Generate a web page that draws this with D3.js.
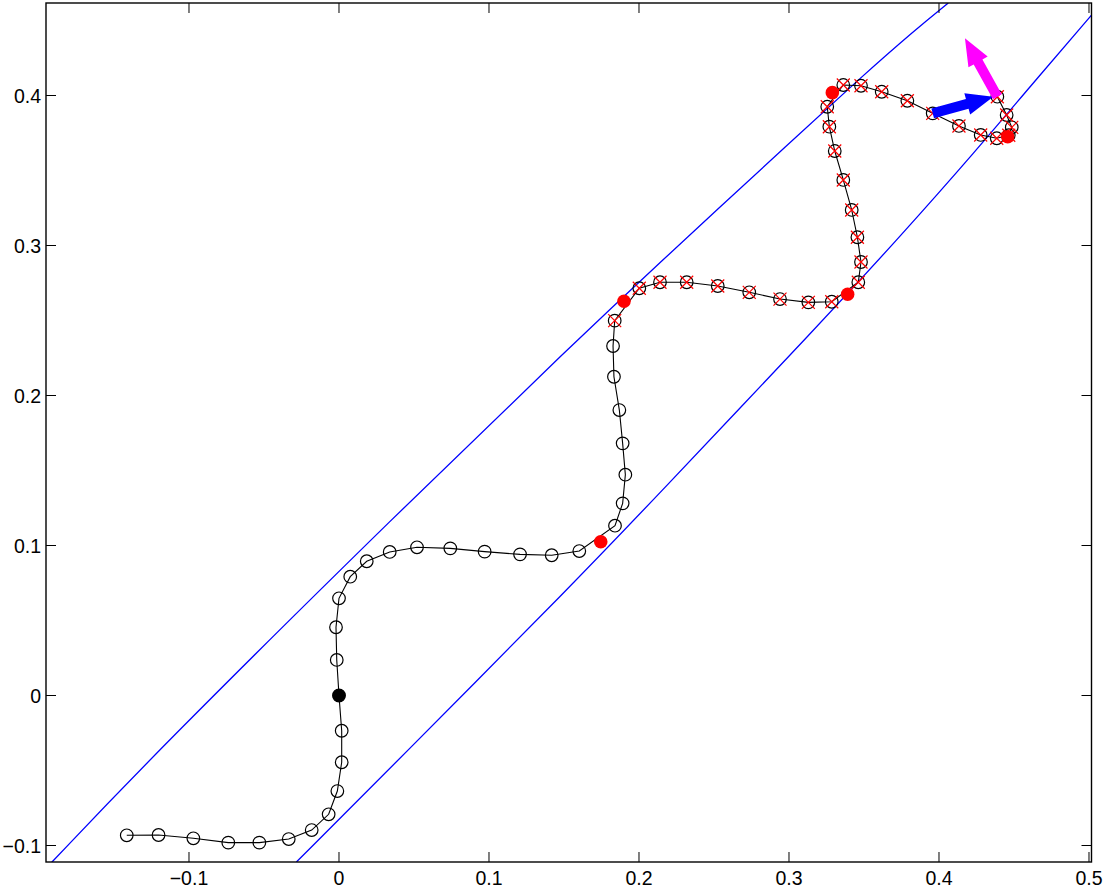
<!DOCTYPE html>
<html>
<head>
<meta charset="utf-8">
<script src="https://cdn.jsdelivr.net/npm/d3@7"></script>
<style>
  body { margin: 0; background: #fff; }
  svg text { font-family: "Liberation Sans", Arial, sans-serif; font-size: 19.5px; fill: #000; }
</style>
</head>
<body>
<div id="chart"></div>
<script>
// path points, first part plain circles
var pathX = [-0.1415, -0.1203, -0.0971, -0.0738, -0.0531, -0.0335, -0.0182, -0.0069, -0.0011, 0.0018,
  0.0018, 0.0, -0.0015, -0.0020, 0.0, 0.0075, 0.0185, 0.0338, 0.0520, 0.0742,
  0.0971, 0.1207, 0.1418, 0.1602, 0.1840, 0.1891, 0.1909, 0.1891, 0.1869, 0.1833, 0.1827];
var pathY = [-0.0932, -0.0930, -0.0952, -0.0981, -0.0981, -0.0957, -0.0897, -0.0792, -0.0637, -0.0445,
  -0.0235, 0.0, 0.0237, 0.0455, 0.0648, 0.0792, 0.0895, 0.0957, 0.0988, 0.0981,
  0.0959, 0.0941, 0.0935, 0.0963, 0.1132, 0.1281, 0.1472, 0.1681, 0.1903, 0.2125, 0.2330];
// second part, crossed points
var crossX = [0.1838, 0.2002, 0.2140, 0.2318, 0.2525, 0.2735, 0.2940, 0.3129, 0.3285, 0.3462,
  0.3480, 0.3456, 0.3418, 0.3362, 0.3305, 0.3269, 0.3255, 0.3362, 0.3480, 0.3618,
  0.3789, 0.3958, 0.4133, 0.4278, 0.4385, 0.4465, 0.4485, 0.4451, 0.4389];
var crossY = [0.2499, 0.2715, 0.2755, 0.2755, 0.2730, 0.2688, 0.2643, 0.2621, 0.2625, 0.2755,
  0.2890, 0.3055, 0.3237, 0.3437, 0.3630, 0.3792, 0.3925, 0.4070, 0.4065, 0.4025,
  0.3965, 0.3881, 0.3797, 0.3737, 0.3715, 0.3735, 0.3788, 0.3870, 0.3992];

var redX = [0.1745, 0.1900, 0.3391, 0.3289, 0.4458];
var redY = [0.1025, 0.2628, 0.2675, 0.4019, 0.3725];
var startPt = [0, 0];

// band edges
var upperX = [-0.1915, -0.1205, 0.0407, 0.1589, 0.2073, 0.3073, 0.3473, 0.3840, 0.4062];
var upperY = [-0.1112, -0.0363, 0.1232, 0.2370, 0.2825, 0.3748, 0.4115, 0.4437, 0.4617];
var lowerX = [-0.0284, 0.0407, 0.1585, 0.2073, 0.3229, 0.3740, 0.4251, 0.4607, 0.5018];
var lowerY = [-0.1110, -0.0419, 0.0770, 0.1281, 0.2503, 0.3059, 0.3637, 0.4059, 0.4537];

// arrows: tail x, tail y, tip x, tip y
var arrowBlue = [0.3958, 0.3881, 0.4362, 0.3992];
var arrowMagenta = [0.4389, 0.3992, 0.4173, 0.4381];

var xTicks = [-0.1, 0, 0.1, 0.2, 0.3, 0.4, 0.5];
var yTicks = [-0.1, 0, 0.1, 0.2, 0.3, 0.4];

var W = 1104, H = 890;
var padL = 46, padR = 1091.5, padT = 3, padB = 862;

var x = d3.scaleLinear().domain([-0.19533, 0.50167]).range([padL, padR]);
var y = d3.scaleLinear().domain([-0.111, 0.46167]).range([padB, padT]);

var svg = d3.select("#chart").append("svg").attr("width", W).attr("height", H);

svg.append("clipPath").attr("id", "clip").append("rect")
  .attr("x", padL).attr("y", padT).attr("width", padR - padL).attr("height", padB - padT);

var plot = svg.append("g").attr("clip-path", "url(#clip)");

function zip(xs, ys) { return xs.map(function(v, i) { return [v, ys[i]]; }); }

var edge = d3.line().x(function(d) { return x(d[0]); }).y(function(d) { return y(d[1]); }).curve(d3.curveBasis);
[zip(upperX, upperY), zip(lowerX, lowerY)].forEach(function(pts) {
  plot.append("path").attr("d", edge(pts)).attr("fill", "none").attr("stroke", "#0000ff").attr("stroke-width", 1.3);
});

var pts1 = zip(pathX, pathY), pts2 = zip(crossX, crossY);
var all = pts1.concat(pts2);
var line = d3.line().x(function(d) { return x(d[0]); }).y(function(d) { return y(d[1]); });
plot.append("path").attr("d", line(all)).attr("fill", "none").attr("stroke", "#000").attr("stroke-width", 1.1);

plot.selectAll("circle.m").data(all).enter().append("circle").attr("class", "m")
  .attr("cx", function(d) { return x(d[0]); }).attr("cy", function(d) { return y(d[1]); })
  .attr("r", 6.3).attr("fill", "none").attr("stroke", "#000").attr("stroke-width", 1.2);

var s = 6.5;
plot.selectAll("path.cross").data(pts2).enter().append("path").attr("class", "cross")
  .attr("d", function(d) {
    var cx = x(d[0]), cy = y(d[1]);
    return "M" + (cx - s) + "," + (cy - s) + "L" + (cx + s) + "," + (cy + s) +
      "M" + (cx - s) + "," + (cy + s) + "L" + (cx + s) + "," + (cy - s);
  })
  .attr("stroke", "#ff0000").attr("stroke-width", 1.2).attr("fill", "none");

plot.selectAll("circle.red").data(zip(redX, redY)).enter().append("circle").attr("class", "red")
  .attr("cx", function(d) { return x(d[0]); }).attr("cy", function(d) { return y(d[1]); })
  .attr("r", 6.8).attr("fill", "#ff0000");

plot.append("circle").attr("cx", x(startPt[0])).attr("cy", y(startPt[1])).attr("r", 6.5).attr("fill", "#000");

function arrow(a, color) {
  var x0 = x(a[0]), y0 = y(a[1]), x1 = x(a[2]), y1 = y(a[3]);
  var dx = x1 - x0, dy = y1 - y0, L = Math.sqrt(dx * dx + dy * dy);
  var ux = dx / L, uy = dy / L, nx = -uy, ny = ux;
  var hl = 27, sw = 5, hw = 11;
  var bx = x1 - ux * hl, by = y1 - uy * hl;
  var p = [
    [x0 + nx * sw, y0 + ny * sw], [bx + nx * sw, by + ny * sw], [bx + nx * hw, by + ny * hw],
    [x1, y1], [bx - nx * hw, by - ny * hw], [bx - nx * sw, by - ny * sw], [x0 - nx * sw, y0 - ny * sw]
  ];
  plot.append("polygon").attr("points", p.map(function(q) { return q.join(","); }).join(" ")).attr("fill", color);
}
arrow(arrowBlue, "#0000ff");
arrow(arrowMagenta, "#ff00ff");

// axes box, ticks inside on all sides
var ax = svg.append("g");
var tl = 10;
function fmt(v) { return v < 0 ? "\u2212" + d3.format("")(-v) : d3.format("")(v); }
xTicks.forEach(function(t) {
  var px = x(t);
  ax.append("line").attr("x1", px).attr("x2", px).attr("y1", padB).attr("y2", padB - tl).attr("stroke", "#000");
  ax.append("line").attr("x1", px).attr("x2", px).attr("y1", padT).attr("y2", padT + tl).attr("stroke", "#000");
  ax.append("text").attr("x", px).attr("y", 885).attr("text-anchor", "middle").text(fmt(t));
});
yTicks.forEach(function(t) {
  var py = y(t);
  ax.append("line").attr("x1", padL).attr("x2", padL + tl).attr("y1", py).attr("y2", py).attr("stroke", "#000");
  ax.append("line").attr("x1", padR).attr("x2", padR - tl).attr("y1", py).attr("y2", py).attr("stroke", "#000");
  ax.append("text").attr("x", 41).attr("y", py + 7).attr("text-anchor", "end").text(fmt(t));
});
ax.append("rect").attr("x", padL).attr("y", padT).attr("width", padR - padL).attr("height", padB - padT)
  .attr("fill", "none").attr("stroke", "#000").attr("stroke-width", 1.4);
</script>
</body>
</html>
